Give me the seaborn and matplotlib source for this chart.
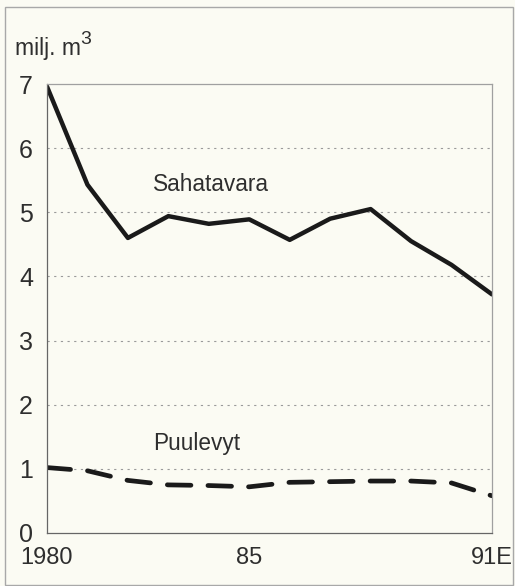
import numpy as np
import pandas as pd
import matplotlib
matplotlib.use('Agg')
import matplotlib.pyplot as plt
import seaborn as sns

# ── DATA ────────────────────────────────────────────────────────────────────
years = list(range(1980, 1992))
sahatavara = [6.96, 5.43, 4.60, 4.94, 4.82, 4.89, 4.57, 4.90, 5.05, 4.55, 4.18, 3.72]
puulevyt = [1.02, 0.97, 0.82, 0.75, 0.74, 0.72, 0.79, 0.80, 0.81, 0.81, 0.78, 0.58]
yticks = [0, 1, 2, 3, 4, 5, 6, 7]
xtick_labels = {1980: '1980', 1985: '85', 1991: '91E'}

BG = '#fbfbf3'
INK = '#1a1a1a'
TXT = '#2e2e2e'
GREY = '#9a9a9a'

sns.set_style('white')
plt.rcParams['font.family'] = ['Liberation Sans', 'DejaVu Sans']

df = pd.DataFrame({'year': years, 'Sahatavara': sahatavara, 'Puulevyt': puulevyt})

fig = plt.figure(figsize=(5.15, 5.86), dpi=100)
fig.patch.set_facecolor(BG)
# thin outer frame
fig.add_artist(plt.Rectangle((5 / 515, 0.002), 0.997 - 5 / 515, 1 - 7 / 586 - 0.002,
                             transform=fig.transFigure, fill=False,
                             edgecolor='#a8a8a8', linewidth=1.0))

ax = fig.add_axes([47 / 515, 1 - 533 / 586, 445 / 515, 449 / 586])
ax.set_facecolor(BG)

sns.lineplot(data=df, x='year', y='Sahatavara', ax=ax, color=INK, linewidth=3.2)
sns.lineplot(data=df, x='year', y='Puulevyt', ax=ax, color=INK, linewidth=3.4)
ax.lines[1].set_dashes([5, 3.6])
ax.lines[1].set_dash_capstyle('round')

ax.set_xlim(1980, 1991)
ax.set_ylim(0, 7)

# horizontal dotted grid
for v in yticks[1:-1]:
    ax.axhline(v, color=GREY, linestyle=(0, (2, 4)), linewidth=0.8, zorder=0)

ax.set_yticks(yticks)
ax.set_yticklabels([str(v) for v in yticks])
ax.set_xticks(years)
ax.set_xticklabels([xtick_labels.get(y, '') for y in years])
ax.tick_params(axis='y', direction='out', length=7, width=0.8, color='#777777',
               labelsize=18, labelcolor=TXT, pad=3)
ax.tick_params(axis='x', direction='inout', length=12, width=0.8, color='#555555',
               labelsize=17, labelcolor=TXT, pad=4)
ax.set_xlabel('')
ax.set_ylabel('')

for side in ['top', 'right']:
    ax.spines[side].set_color('#a0a0a0')
    ax.spines[side].set_linewidth(0.9)
for side in ['left', 'bottom']:
    ax.spines[side].set_color('#666666')
    ax.spines[side].set_linewidth(0.9)

ax.text(1982.62, 5.43, 'Sahatavara', fontsize=16.3, color=TXT, va='center')
ax.text(1982.62, 1.39, 'Puulevyt', fontsize=16.3, color=TXT, va='center')

fig.text(15 / 515, 1 - 49 / 586, 'milj. m', fontsize=16.5, color=TXT, va='center')
fig.text(80 / 515, 1 - 40 / 586, '3', fontsize=14, color=TXT, va='center')

fig.savefig('out.png', dpi=100, facecolor=BG)
